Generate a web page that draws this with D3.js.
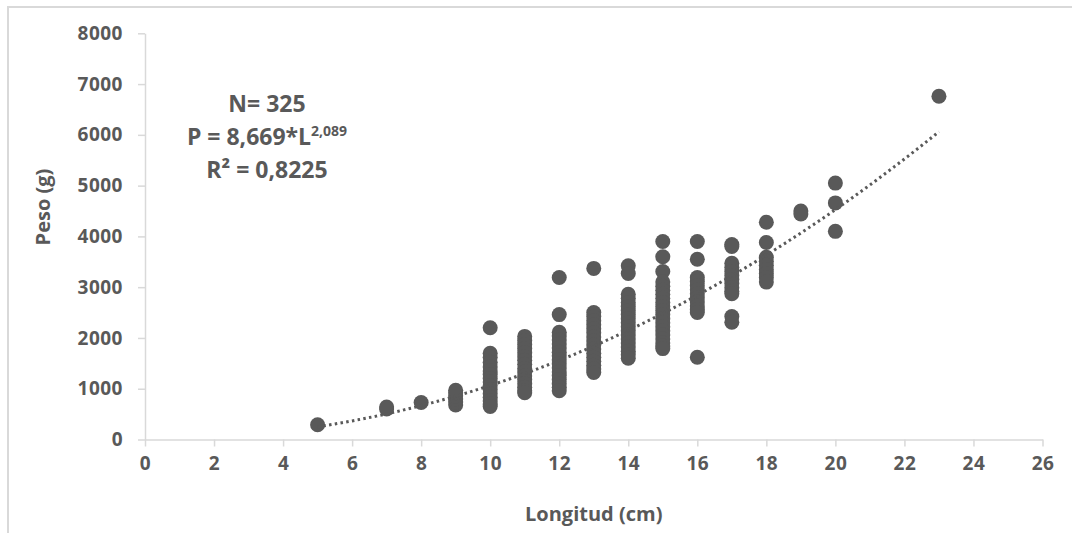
<!DOCTYPE html>
<html>
<head>
<meta charset="utf-8">
<script src="https://cdn.jsdelivr.net/npm/d3@7"></script>
<style>
  body { margin: 0; background: #fff; }
  text { font-family: "Open Sans", sans-serif; font-weight: bold; fill: #595959; }
</style>
</head>
<body>
<div id="chart"></div>
<script>
// Data: one list of weights (g) per length (cm)
const longitudes = [5, 7, 8, 9, 10, 11, 12, 13, 14, 15, 16, 17, 18, 19, 20, 23];
const pesos = [
	[290],
	[600, 640],
	[730],
	[680, 740, 800, 860, 920, 970],
	[2200, 1700, 1620, 1520, 1430, 1350, 1280, 1200, 1130, 1060, 980, 900, 830, 760, 700, 650],
	[2030, 1950, 1870, 1790, 1710, 1630, 1560, 1480, 1400, 1330, 1250, 1180, 1100, 1030, 960, 920],
	[3190, 2460, 2110, 2040, 1960, 1880, 1800, 1720, 1650, 1570, 1490, 1410, 1330, 1260, 1180, 1100, 1030, 960],
	[3370, 2500, 2420, 2340, 2260, 2180, 2100, 2020, 1940, 1860, 1780, 1700, 1620, 1540, 1460, 1390, 1320],
	[3420, 3270, 2860, 2780, 2700, 2620, 2540, 2460, 2380, 2300, 2220, 2140, 2060, 1980, 1900, 1820, 1740, 1670, 1600],
	[3900, 3600, 3310, 3100, 3020, 2940, 2860, 2780, 2700, 2620, 2540, 2460, 2380, 2300, 2220, 2140, 2060, 1980, 1900, 1840, 1790],
	[3900, 3550, 3190, 3110, 3030, 2950, 2870, 2790, 2710, 2630, 2560, 2500, 1620],
	[3840, 3800, 3470, 3390, 3310, 3230, 3150, 3070, 2990, 2920, 2870, 2420, 2310],
	[4280, 3880, 3590, 3510, 3430, 3350, 3270, 3190, 3100],
	[4500, 4440],
	[5050, 4660, 4100],
	[6760]
];

// Fitted power curve P = a * L^b
const coefA = 8.669;
const coefB = 2.089;
const trendRange = [5, 23];

const xTicks = d3.range(0, 27, 2);
const yTicks = d3.range(0, 8001, 1000);

const WIDTH = 1072;
const HEIGHT = 533;
const GREY = "#595959";
const LIGHT = "#d9d9d9";

const svg = d3
	.select("#chart")
	.append("svg")
	.attr("width", WIDTH)
	.attr("height", HEIGHT);

// Chart frame (only top and left edges are visible in the crop)
svg.append("rect")
	.attr("x", 8)
	.attr("y", 7)
	.attr("width", 1200)
	.attr("height", 700)
	.attr("fill", "none")
	.attr("stroke", LIGHT)
	.attr("stroke-width", 2);

const x = d3.scaleLinear().domain([0, 26]).range([145, 1042.5]);
const y = d3.scaleLinear().domain([0, 8000]).range([439.5, 33.3]);

// X axis
const xAxis = svg
	.append("g")
	.attr("transform", `translate(0,${y(0)})`)
	.call(d3.axisBottom(x).tickValues(xTicks).tickSize(7).tickSizeOuter(0).tickPadding(10));
xAxis.select(".domain").attr("stroke", LIGHT).attr("stroke-width", 1.5);
xAxis.selectAll(".tick line").attr("stroke", LIGHT).attr("stroke-width", 1.5);
xAxis.selectAll(".tick text")
	.attr("font-size", 19)
	.attr("font-family", "Open Sans, sans-serif")
	.attr("font-weight", "bold")
	.attr("letter-spacing", 0.5)
	.attr("fill", GREY);

// Y axis
const yAxis = svg
	.append("g")
	.attr("transform", `translate(${x(0)},0)`)
	.call(d3.axisLeft(y).tickValues(yTicks).tickFormat(d3.format("d")).tickSize(7).tickSizeOuter(0).tickPadding(15));
yAxis.select(".domain").attr("stroke", LIGHT).attr("stroke-width", 1.5);
yAxis.selectAll(".tick line").attr("stroke", LIGHT).attr("stroke-width", 1.5);
yAxis.selectAll(".tick text")
	.attr("font-size", 19)
	.attr("font-family", "Open Sans, sans-serif")
	.attr("font-weight", "bold")
	.attr("letter-spacing", 0.5)
	.attr("fill", GREY);

// Points
const points = longitudes.flatMap((l, i) => pesos[i].map((p) => ({ l, p })));
svg.append("g")
	.selectAll("circle")
	.data(points)
	.enter()
	.append("circle")
	.attr("cx", (d) => x(d.l))
	.attr("cy", (d) => y(d.p))
	.attr("r", 7.5)
	.attr("fill", GREY);

// Trend line
const trendPts = d3.range(trendRange[0], trendRange[1] + 0.001, 0.1).map((l) => [l, coefA * Math.pow(l, coefB)]);
svg.append("path")
	.datum(trendPts)
	.attr("fill", "none")
	.attr("stroke", GREY)
	.attr("stroke-width", 3)
	.attr("stroke-dasharray", "2.5 3.3")
	.attr("d", d3.line().x((d) => x(d[0])).y((d) => y(d[1])));

// Annotation
const note = svg.append("g").attr("text-anchor", "middle").attr("font-size", 23);
note.append("text").attr("x", 267).attr("y", 112).text("N= 325");
const eq = note.append("text").attr("x", 267).attr("y", 145);
eq.append("tspan").text("P = 8,669*L");
eq.append("tspan").attr("font-size", 14).attr("dy", -9).text("2,089");
note.append("text").attr("x", 267).attr("y", 178).text("R² = 0,8225");

// Axis titles
svg.append("text")
	.attr("x", (x(0) + x(26)) / 2)
	.attr("y", 521)
	.attr("text-anchor", "middle")
	.attr("font-size", 20)
	.text("Longitud (cm)");

svg.append("text")
	.attr("transform", "translate(50,207) rotate(-90)")
	.attr("text-anchor", "middle")
	.attr("font-size", 20)
	.text("Peso (g)");
</script>
</body>
</html>
